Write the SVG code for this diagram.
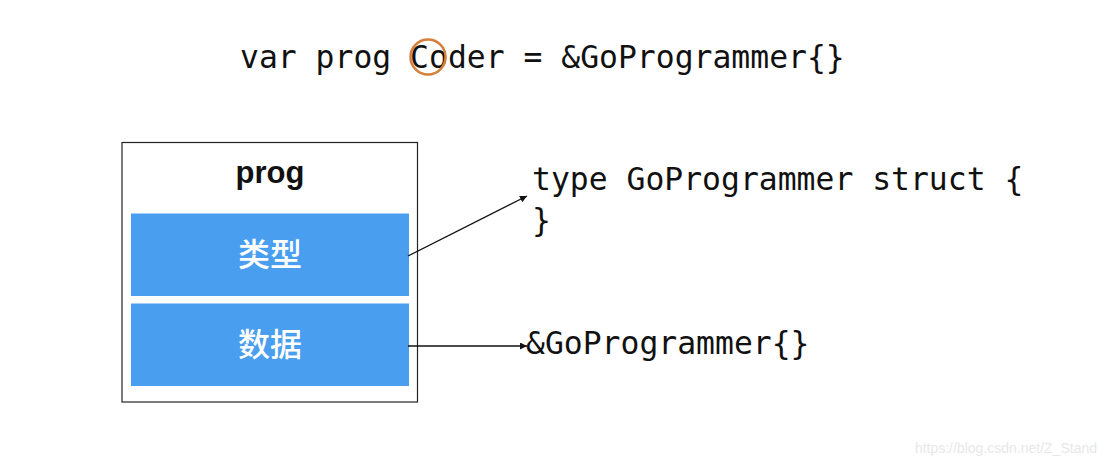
<svg xmlns="http://www.w3.org/2000/svg" width="1120" height="464" viewBox="0 0 1120 464">
<defs>
<style>
.code{font-family:"DejaVu Sans Mono","Liberation Mono",monospace;font-size:31.4px;fill:#111}
.label{font-family:"Noto Sans CJK SC","Liberation Sans",sans-serif;font-size:32px;font-weight:500;fill:#fff;text-anchor:middle}
.blue{fill:#4a9ef0}
.conn{stroke:#111;stroke-width:1.3;fill:none;marker-end:url(#ah)}
</style>
<marker id="ah" viewBox="0 0 10 10" refX="10" refY="5" markerWidth="7" markerHeight="7" markerUnits="userSpaceOnUse" orient="auto">
<path d="M0,0 L10,5 L0,10 z" fill="#111"/>
</marker>
</defs>
<rect width="1120" height="464" fill="#fff"/>
<g id="decl">
<text class="code" x="240" y="68">var prog Coder = &amp;GoProgrammer{}</text>
<circle cx="428" cy="57" r="17.5" fill="none" stroke="#d4803a" stroke-width="2.5"/>
</g>
<g id="prog">
<rect x="122" y="142.5" width="295.5" height="259.5" fill="#fff" stroke="#222" stroke-width="1.2"/>
<text x="270" y="183" text-anchor="middle" font-family="Liberation Sans, Arial, sans-serif" font-weight="bold" font-size="31" fill="#111">prog</text>
</g>
<g id="type">
<rect class="blue" x="131" y="213.5" width="278" height="82.5"/>
<text class="label" x="270" y="266">类型</text>
</g>
<g id="data">
<rect class="blue" x="131" y="303.5" width="278" height="82.5"/>
<text class="label" x="270" y="356">数据</text>
</g>
<g id="typedef">
<text class="code" x="532" y="190">type GoProgrammer struct {</text>
<text class="code" x="532" y="231">}</text>
</g>
<g id="value">
<text class="code" x="526" y="354">&amp;GoProgrammer{}</text>
</g>
<g id="connectors">
<line class="conn" x1="408" y1="256" x2="527" y2="196"/>
<line class="conn" x1="408" y1="346" x2="527" y2="346"/>
</g>
<text x="1097" y="453" text-anchor="end" font-family="Liberation Sans, Arial, sans-serif" font-size="14" fill="#e8e8e8">https://blog.csdn.net/Z_Stand</text>
</svg>
